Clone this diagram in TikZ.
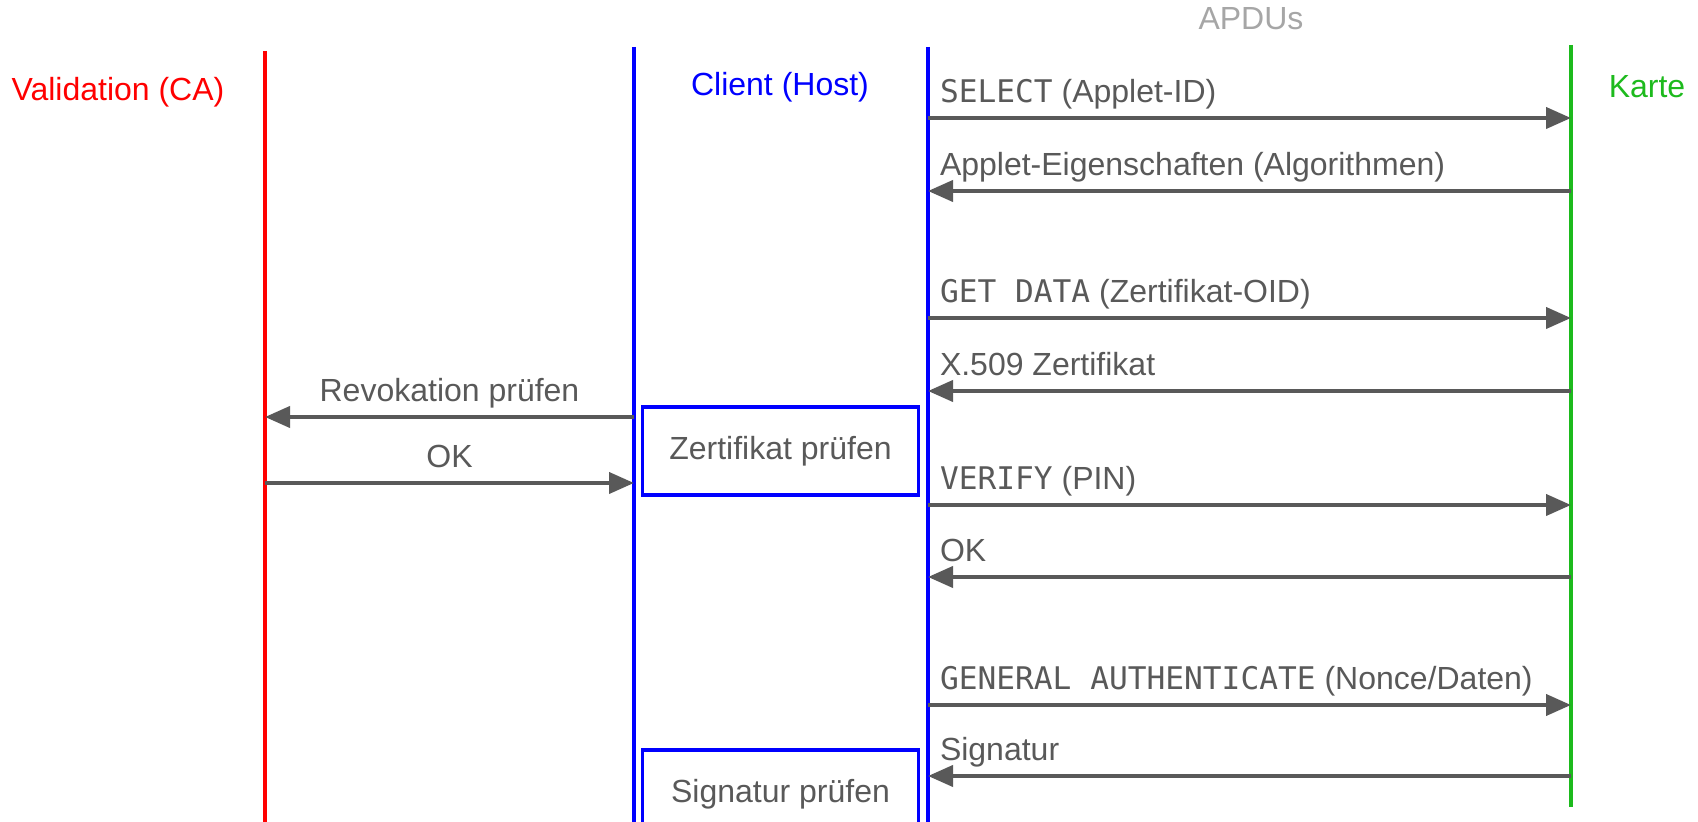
\documentclass[tikz,border=0pt]{standalone}
\usepackage{fontspec}
\setmainfont{Liberation Sans}
\setmonofont{DejaVu Sans Mono}
\usetikzlibrary{arrows.meta}

\definecolor{msggray}{HTML}{595959}
\definecolor{apdugray}{HTML}{A6A6A6}
\definecolor{kartegreen}{HTML}{1DBA1D}

\newcommand*\apducmd[1]{{\ttfamily\fontsize{15.6}{18}\selectfont #1}}

\tikzset{
  lifeline/.style={line width=1.8pt},
  msg/.style={draw=msggray,line width=2pt},
  lbl/.style={text=msggray,inner sep=0pt,anchor=base west,xshift=5pt,yshift=7.5pt},
  midlbl/.style={text=msggray,inner sep=0pt,anchor=base,yshift=7.5pt},
  checkbox/.style={draw=blue,line width=1.8pt,text=msggray,minimum width=138pt,minimum height=44pt,inner sep=0pt},
}

\begin{document}
\begin{tikzpicture}[x=0.5pt,y=-0.5pt,>={Triangle[length=12.5pt,width=10.5pt]},font=\fontsize{16}{19}\selectfont]
\clip (0,0) rectangle (1698,822);

% Rollen
\node[text=red] (ca) at (118,92) {Validation (CA)};
\node[text=blue] (host) at (780,87) {Client (Host)};
\node[text=kartegreen] (karte) at (1647,87) {Karte};
\node[text=apdugray] (apdu) at (1251,19) {APDUs};

% Lebenslinien
\coordinate (ca top) at (265,51);   \coordinate (ca bot) at (265,822);
\coordinate (cl top) at (634,47);   \coordinate (cl bot) at (634,822);
\coordinate (hs top) at (928,47);   \coordinate (hs bot) at (928,822);
\coordinate (kt top) at (1571,45);  \coordinate (kt bot) at (1571,807);
\draw[lifeline,red] (ca top) -- (ca bot);
\draw[lifeline,blue] (cl top) -- (cl bot);
\draw[lifeline,blue] (hs top) -- (hs bot);
\draw[lifeline,kartegreen] (kt top) -- (kt bot);

% APDUs zwischen Host und Karte
\foreach \y [count=\i] in {118,191,318,391,505,577,705,776}{
  \coordinate (h\i) at (928,\y);
  \coordinate (k\i) at (1571,\y);
}
\draw[msg,->] (h1) -- (k1) node[lbl,pos=0] {\apducmd{SELECT} (Applet-ID)};
\draw[msg,<-] (h2) -- (k2) node[lbl,pos=0] {Applet-Eigenschaften (Algorithmen)};
\draw[msg,->] (h3) -- (k3) node[lbl,pos=0] {\apducmd{GET DATA} (Zertifikat-OID)};
\draw[msg,<-] (h4) -- (k4) node[lbl,pos=0] {X.509 Zertifikat};
\draw[msg,->] (h5) -- (k5) node[lbl,pos=0] {\apducmd{VERIFY} (PIN)};
\draw[msg,<-] (h6) -- (k6) node[lbl,pos=0] {OK};
\draw[msg,->] (h7) -- (k7) node[lbl,pos=0] {\apducmd{GENERAL AUTHENTICATE} (Nonce/Daten)};
\draw[msg,<-] (h8) -- (k8) node[lbl,pos=0] {Signatur};

% Validierung
\coordinate (ca rev) at (265,417); \coordinate (cl rev) at (634,417);
\coordinate (ca ok) at (265,483);  \coordinate (cl ok) at (634,483);
\draw[msg,->] (cl rev) -- (ca rev) node[midlbl,midway] {Revokation prüfen};
\draw[msg,->] (ca ok) -- (cl ok) node[midlbl,midway] {OK};

% Pruefschritte
\node[checkbox] (zcheck) at (780.5,451) {Zertifikat prüfen};
\node[checkbox] (scheck) at (780.5,794) {Signatur prüfen};

\end{tikzpicture}
\end{document}
